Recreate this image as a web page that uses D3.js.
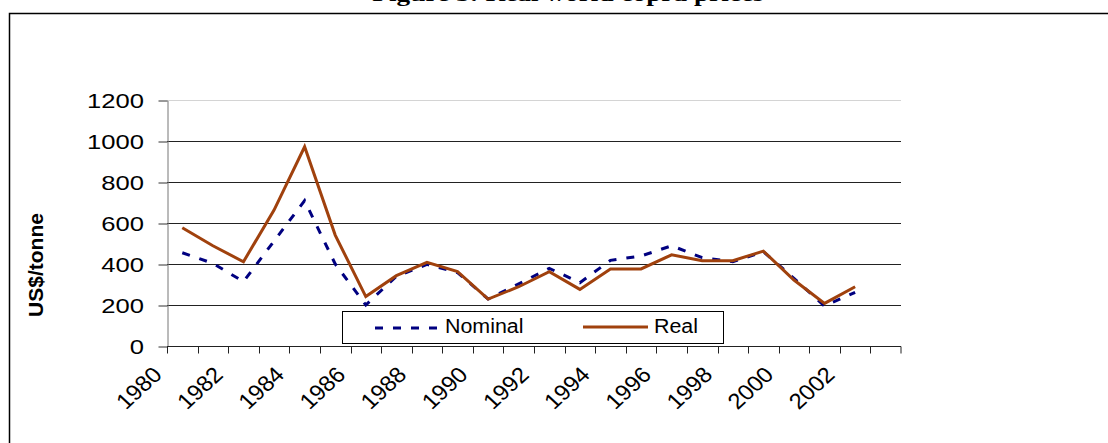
<!DOCTYPE html>
<html>
<head>
<meta charset="utf-8">
<title>World copra prices</title>
<script src="https://d3js.org/d3.v7.min.js"></script>
<style>
body { margin: 0; background: #fff; }
svg { display: block; }
text { font-family: Arial, "Liberation Sans", sans-serif; fill: #000; }
</style>
</head>
<body>
<svg width="1108" height="443"></svg>
<script>
// values
var years = [1980, 1981, 1982, 1983, 1984, 1985, 1986, 1987, 1988, 1989, 1990, 1991,
             1992, 1993, 1994, 1995, 1996, 1997, 1998, 1999, 2000, 2001, 2002, 2003];
var nominal = [455, 403, 314, 512, 709, 400, 200, 340, 398, 358, 229, 303,
               379, 309, 418, 439, 489, 431, 411, 460, 330, 195, 262];
var real = [577, 489, 411, 663, 972, 541, 241, 343, 408, 363, 229, 289,
            363, 276, 376, 376, 445, 416, 416, 463, 322, 208, 289];
var yTicks = [0, 200, 400, 600, 800, 1000, 1200];
var xLabels = [1980, 1982, 1984, 1986, 1988, 1990, 1992, 1994, 1996, 1998, 2000, 2002];
var seriesNames = ["Nominal", "Real"];

var svg = d3.select("svg");

// frame + cut off title
svg.append("rect").attr("x", 9.5).attr("y", 13.5).attr("width", 1200).attr("height", 500)
  .attr("fill", "none").attr("stroke", "#000").attr("stroke-width", 1.5);
svg.append("text")
  .attr("transform", "translate(568,0.5) scale(1.3,1)")
  .attr("text-anchor", "middle")
  .style("font-family", "'Liberation Serif', 'Times New Roman', serif")
  .style("font-weight", "bold").style("font-size", "21px")
  .text("Figure 5: Real world copra prices");

var plotL = 167, plotR = 901, plotT = 100, plotB = 346;

var x = d3.scaleBand().domain(years).range([plotL, plotR]).paddingInner(0).paddingOuter(0);
var y = d3.scaleLinear().domain([0, 1200]).range([plotB, plotT]);
var cx = function (yr) { return x(yr) + x.bandwidth() / 2; };

// gridlines
svg.selectAll("line.grid").data(yTicks.slice(1)).enter().append("line")
  .attr("class", "grid")
  .attr("x1", plotL).attr("x2", plotR)
  .attr("y1", function (d) { return Math.round(y(d)) + 0.5; })
  .attr("y2", function (d) { return Math.round(y(d)) + 0.5; })
  .attr("stroke", function (d) { return d == 1200 ? "#d4d4d4" : "#222"; })
  .attr("stroke-width", 1);

// y axis
var yAxis = svg.append("g").attr("transform", "translate(" + (plotL + 0.5) + ",0.5)")
  .call(d3.axisLeft(y).tickValues(yTicks).tickSize(9).tickSizeOuter(0).tickFormat(""));
yAxis.select(".domain").attr("stroke", "#777");
yAxis.selectAll(".tick line").attr("stroke", "#333");

svg.selectAll("text.ytick").data(yTicks).enter().append("text")
  .attr("class", "ytick")
  .attr("transform", function (d) { return "translate(144," + (y(d) + 7.5) + ") scale(1.28,1)"; })
  .attr("text-anchor", "end")
  .style("font-size", "20px")
  .text(function (d) { return d; });

// x axis, ticks between categories
var xAxis = svg.append("g").attr("transform", "translate(0," + (plotB + 0.5) + ")");
xAxis.append("line").attr("x1", plotL).attr("x2", plotR).attr("stroke", "#222");
xAxis.selectAll("line.xt").data(years.concat(["end"])).enter().append("line")
  .attr("class", "xt")
  .attr("x1", function (d) { return d == "end" ? plotR : Math.round(x(d)) + 0.5; })
  .attr("x2", function (d) { return d == "end" ? plotR : Math.round(x(d)) + 0.5; })
  .attr("y1", 0).attr("y2", 7).attr("stroke", "#222");

svg.selectAll("text.xlab").data(xLabels).enter().append("text")
  .attr("class", "xlab")
  .attr("transform", function (d) { return "translate(" + (cx(d) - 19) + ",376) scale(1.08,1) rotate(-45)"; })
  .attr("text-anchor", "end")
  .style("font-size", "22px")
  .text(function (d) { return d; });

// axis title
svg.append("text")
  .attr("transform", "translate(43,265) rotate(-90)")
  .attr("text-anchor", "middle")
  .style("font-size", "21px").style("font-weight", "bold")
  .text("US$/tonne");

// lines
var line = d3.line()
  .x(function (d, i) { return cx(years[i]); })
  .y(function (d) { return y(d); });

svg.append("path").datum(nominal)
  .attr("d", line).attr("fill", "none")
  .attr("stroke", "#000080").attr("stroke-width", 3)
  .attr("stroke-dasharray", "8,10");

svg.append("path").datum(real)
  .attr("d", line).attr("fill", "none")
  .attr("stroke", "#A0410D").attr("stroke-width", 3)
  .attr("stroke-linejoin", "miter");

// legend
var lg = svg.append("g");
lg.append("rect").attr("x", 342.5).attr("y", 311.5).attr("width", 381).attr("height", 32)
  .attr("fill", "#fff").attr("stroke", "#000").attr("stroke-width", 1);
lg.append("line").attr("x1", 375).attr("x2", 437).attr("y1", 328).attr("y2", 328)
  .attr("stroke", "#000080").attr("stroke-width", 3).attr("stroke-dasharray", "8,10");
lg.append("line").attr("x1", 583).attr("x2", 648).attr("y1", 327).attr("y2", 327)
  .attr("stroke", "#A0410D").attr("stroke-width", 3);
lg.append("text").attr("transform", "translate(445,333) scale(1.07,1)")
  .style("font-size", "20px").text(seriesNames[0]);
lg.append("text").attr("transform", "translate(654,333) scale(1.07,1)")
  .style("font-size", "20px").text(seriesNames[1]);
</script>
</body>
</html>
